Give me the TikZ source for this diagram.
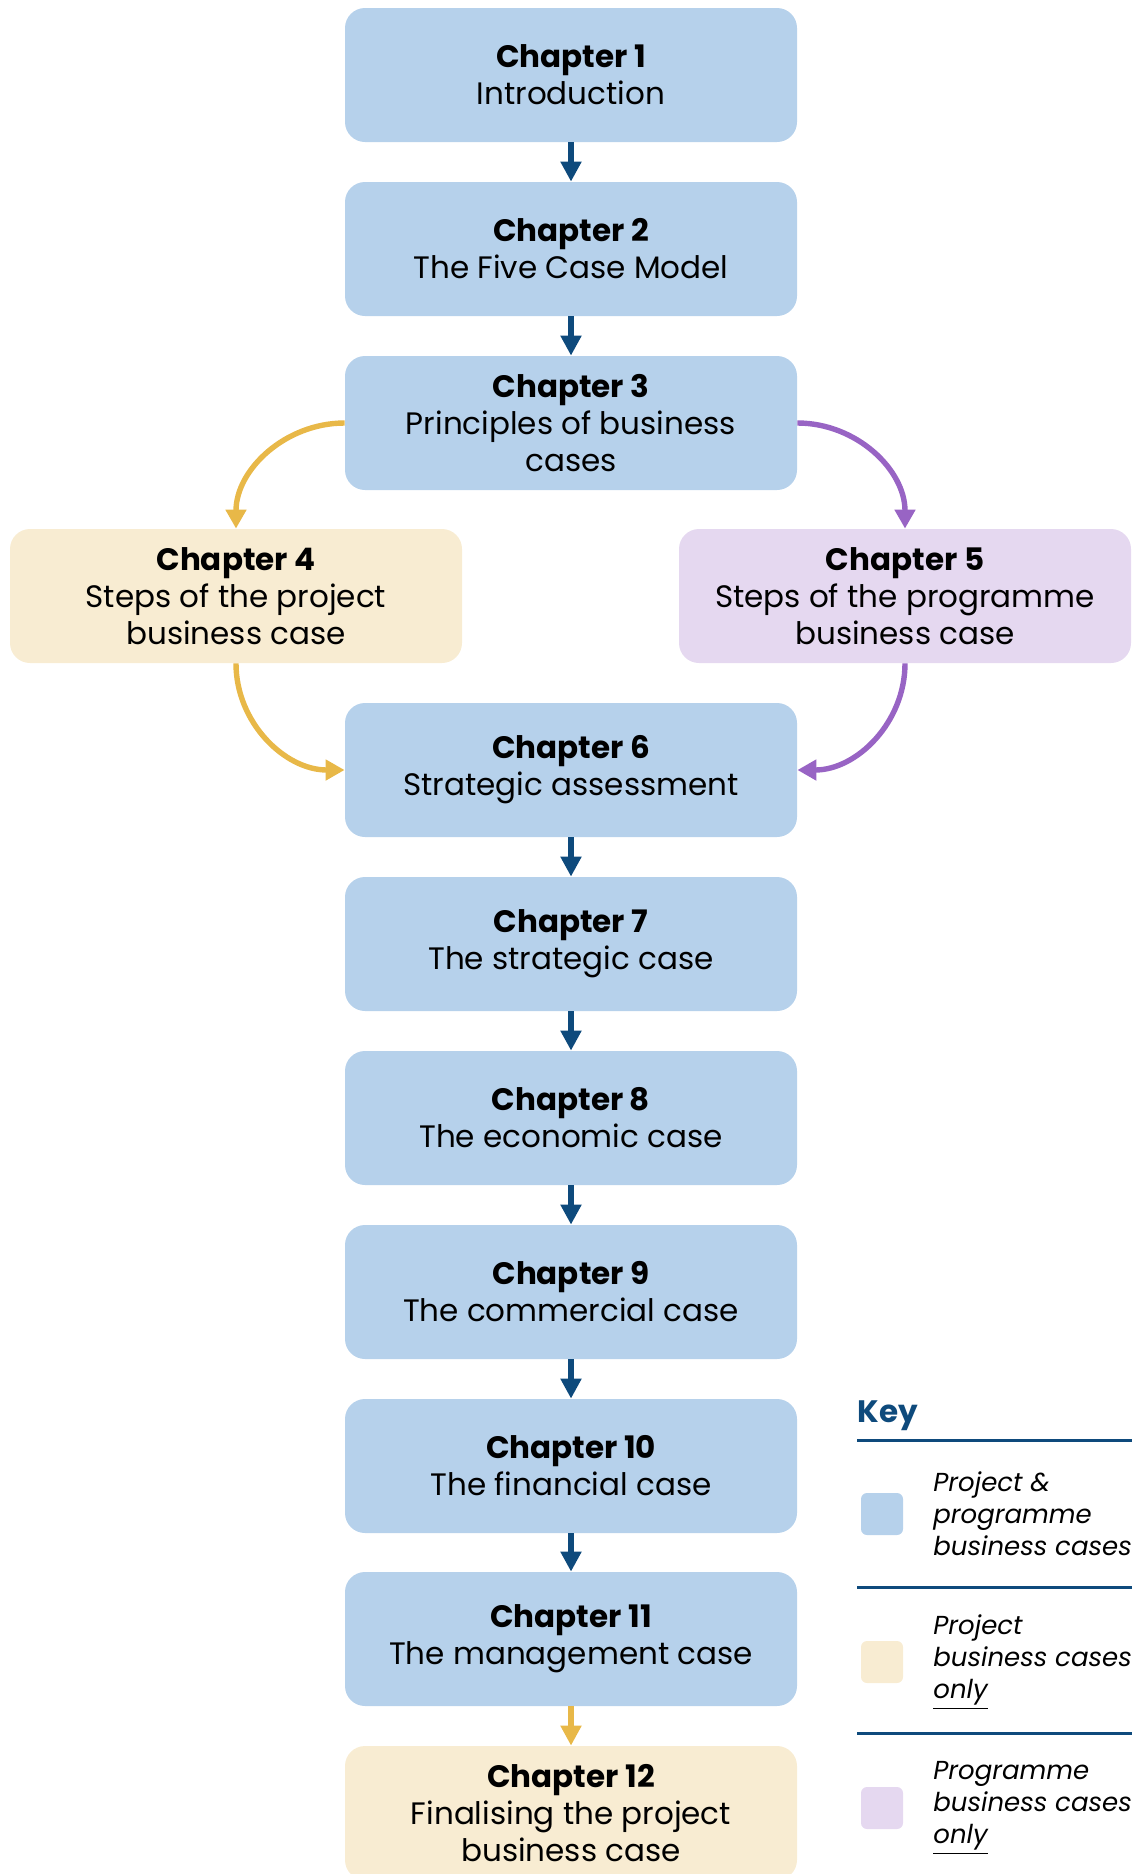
\documentclass[tikz,border=0pt]{standalone}
\usepackage{fontspec}
\setmainfont{Poppins}
\usetikzlibrary{arrows.meta}
\definecolor{boxblue}{RGB}{182,209,235}
\definecolor{boxtan}{RGB}{248,236,210}
\definecolor{boxlilac}{RGB}{229,216,240}
\definecolor{navy}{RGB}{14,74,124}
\definecolor{gold}{RGB}{232,184,72}
\definecolor{violet}{RGB}{152,100,196}
\begin{document}
\begin{tikzpicture}[x=0.5pt,y=-0.5pt,
  chap/.style={rounded corners=10pt, minimum width=226pt, minimum height=67pt, inner sep=0pt, align=center, font=\fontsize{15.5}{18.5}\selectfont},
  both/.style={chap, fill=boxblue},
  proj/.style={chap, fill=boxtan},
  prog/.style={chap, fill=boxlilac},
  flow/.style={-{Triangle[width=10pt,length=10pt]}, line width=3pt, draw=navy},
  curvearrow/.style={-{Triangle[width=10pt,length=9.5pt]}, line width=2.7pt},
  keysq/.style={minimum size=21pt, inner sep=0pt, rounded corners=3pt},
  keytxt/.style={anchor=west, inner sep=0pt, align=left, font=\itshape\fontsize{13}{16}\selectfont}]
\useasboundingbox (0,0) rectangle (1134,1874);
\node[both] (c1) at (571,75) {\textbf{Chapter 1}\\Introduction};
\node[both] (c2) at (571,249) {\textbf{Chapter 2}\\The Five Case Model};
\node[both] (c3) at (571,423) {\textbf{Chapter 3}\\Principles of business\\cases};
\node[proj] (c4) at (236,596) {\textbf{Chapter 4}\\Steps of the project\\business case};
\node[prog] (c5) at (905,596) {\textbf{Chapter 5}\\Steps of the programme\\business case};
\node[both] (c6) at (571,770) {\textbf{Chapter 6}\\Strategic assessment};
\node[both] (c7) at (571,944) {\textbf{Chapter 7}\\The strategic case};
\node[both] (c8) at (571,1118) {\textbf{Chapter 8}\\The economic case};
\node[both] (c9) at (571,1292) {\textbf{Chapter 9}\\The commercial case};
\node[both] (c10) at (571,1466) {\textbf{Chapter 10}\\The financial case};
\node[both] (c11) at (571,1639) {\textbf{Chapter 11}\\The management case};
\node[proj] (c12) at (571,1813) {\textbf{Chapter 12}\\Finalising the project\\business case};
\draw[flow] (c1) -- (c2);
\draw[flow] (c2) -- (c3);
\draw[flow] (c6) -- (c7);
\draw[flow] (c7) -- (c8);
\draw[flow] (c8) -- (c9);
\draw[flow] (c9) -- (c10);
\draw[flow] (c10) -- (c11);
\draw[flow, draw=gold] (c11) -- (c12);
\draw[curvearrow, gold] (c3.west) to[out=180,in=90] (c4.north);
\draw[curvearrow, gold] (c4.south) to[out=-90,in=180] (c6.west);
\draw[curvearrow, violet] (c3.east) to[out=0,in=90] (c5.north);
\draw[curvearrow, violet] (c5.south) to[out=-90,in=0] (c6.east);
\node[anchor=base west, inner sep=0pt, text=navy, font=\bfseries\fontsize{15.5}{18}\selectfont] (key) at (857,1422) {Key};
\draw[navy, line width=1.5pt] (857,1440) -- (1132,1440);
\draw[navy, line width=1.5pt] (857,1587) -- (1132,1587);
\draw[navy, line width=1.5pt] (857,1733) -- (1132,1733);
\node[keysq, fill=boxblue] (k1) at (882,1514) {};
\node[keysq, fill=boxtan] (k2) at (882,1662) {};
\node[keysq, fill=boxlilac] (k3) at (882,1808) {};
\node[keytxt] (t1) at (933,1514) {Project \&\\programme\\business cases};
\node[keytxt] (t2) at (933,1662) {Project\\business cases\\\underline{only}};
\node[keytxt] (t3) at (933,1808) {Programme\\business cases\\\underline{only}};
\end{tikzpicture}
\end{document}
